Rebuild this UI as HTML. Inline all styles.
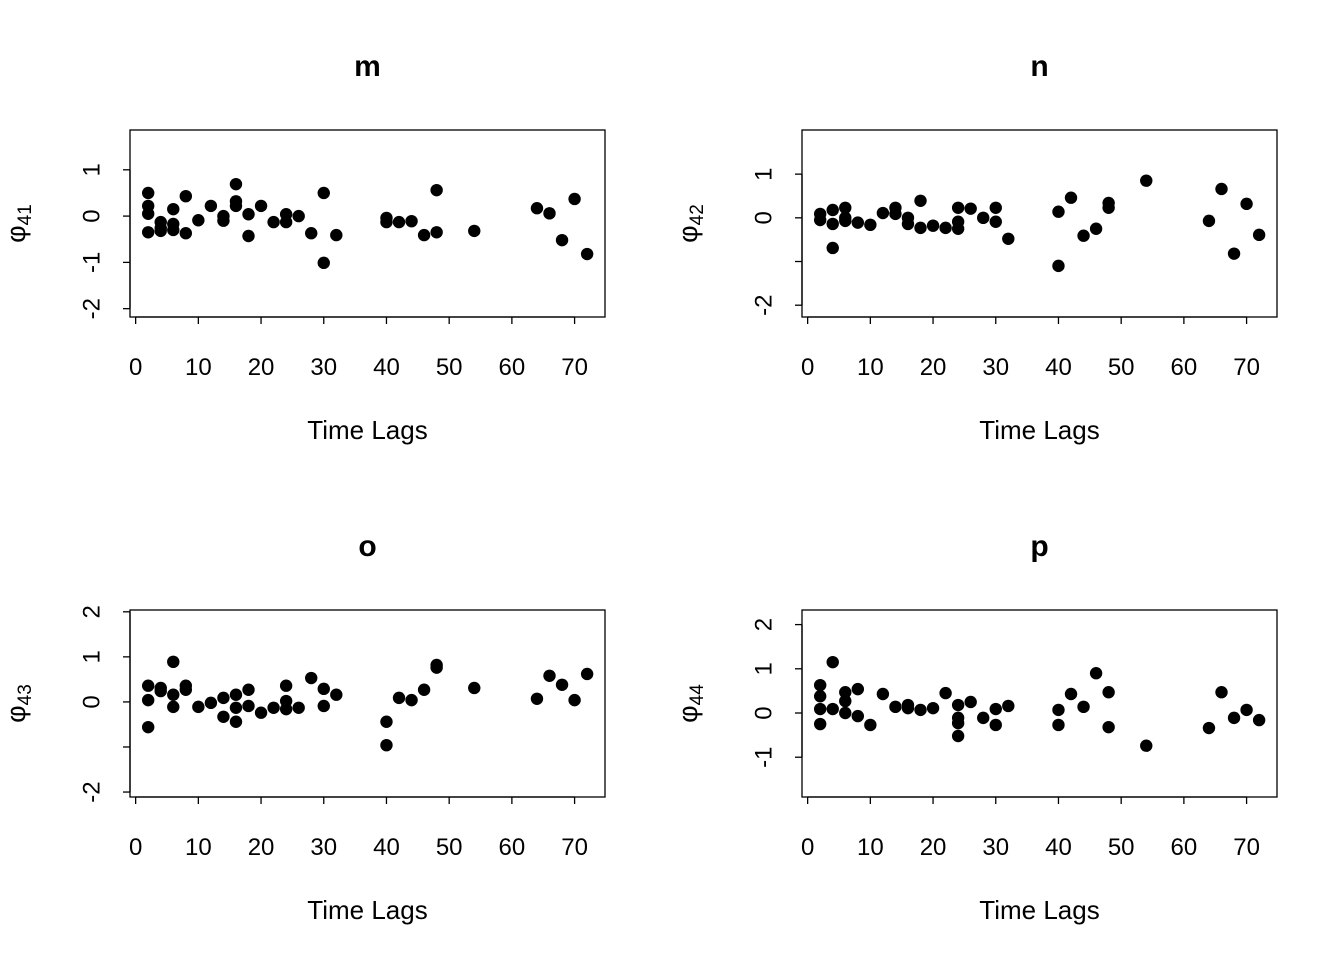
<!DOCTYPE html>
<html><head><meta charset="utf-8"><style>
html,body{margin:0;padding:0;background:#fff;}
svg{display:block;font-family:"Liberation Sans",Arial,sans-serif;}
</style></head><body>
<svg id="chart" width="1344" height="960" viewBox="0 0 1344 960" xmlns="http://www.w3.org/2000/svg"></svg>
<script>
// Data
const lagsM=[2,2,2,2,4,4,4,6,6,6,8,8,10,12,14,14,16,16,16,18,18,20,22,24,24,26,28,30,30,32,40,40,42,44,46,48,48,54,64,66,68,70,72];
const valsM=[0.5,0.22,0.05,-0.35,-0.13,-0.26,-0.32,0.15,-0.17,-0.3,0.43,-0.37,-0.09,0.22,0,-0.1,0.69,0.32,0.22,0.04,-0.43,0.22,-0.13,0.04,-0.13,0,-0.37,0.5,-1.01,-0.41,-0.04,-0.13,-0.13,-0.11,-0.41,0.56,-0.35,-0.32,0.17,0.06,-0.52,0.37,-0.82];
const lagsN=[2,2,4,4,4,6,6,6,8,10,12,14,14,16,16,18,18,20,22,24,24,24,26,28,30,30,32,40,40,42,44,46,48,48,54,64,66,68,70,72];
const valsN=[0.09,-0.05,0.18,-0.14,-0.69,0.23,0,-0.07,-0.11,-0.16,0.11,0.23,0.09,0,-0.14,0.39,-0.23,-0.18,-0.23,0.23,-0.09,-0.25,0.21,0,0.23,-0.09,-0.48,0.14,-1.1,0.46,-0.41,-0.25,0.34,0.23,0.85,-0.07,0.66,-0.82,0.32,-0.39];
const lagsO=[2,2,2,4,4,6,6,6,8,8,10,12,14,14,16,16,16,18,18,20,22,24,24,24,26,28,30,30,32,40,40,42,44,46,48,48,54,64,66,68,70,72];
const valsO=[0.36,0.04,-0.56,0.31,0.24,0.89,0.16,-0.11,0.36,0.27,-0.11,-0.02,0.09,-0.33,0.16,-0.13,-0.44,0.27,-0.09,-0.24,-0.13,0.36,0.02,-0.16,-0.13,0.53,0.29,-0.09,0.16,-0.44,-0.96,0.09,0.04,0.27,0.82,0.76,0.31,0.07,0.58,0.38,0.04,0.62];
const lagsP=[2,2,2,2,4,4,6,6,6,8,8,10,12,14,16,16,18,20,22,24,24,24,24,26,28,30,30,32,40,40,42,44,46,48,48,54,64,66,68,70,72];
const valsP=[0.63,0.38,0.09,-0.25,1.15,0.09,0.47,0.27,0,0.54,-0.07,-0.27,0.43,0.14,0.18,0.11,0.07,0.11,0.45,0.18,-0.11,-0.23,-0.52,0.25,-0.11,0.09,-0.27,0.16,0.07,-0.27,0.43,0.14,0.9,0.47,-0.32,-0.74,-0.34,0.47,-0.11,0.07,-0.16];
const xTicks=[0,10,20,30,40,50,60,70];
const yTicksM=[-2,-1,0,1], yLabelsM=["-2","-1","0","1"];
const yTicksN=[-2,-1,0,1], yLabelsN=["-2","","0","1"];
const yTicksO=[-2,-1,0,1,2], yLabelsO=["-2","","0","1","2"];
const yTicksP=[-1,0,1,2], yLabelsP=["-1","0","1","2"];
const titles=["m","n","o","p"];
const subs=["41","42","43","44"];

const NS="http://www.w3.org/2000/svg";
const svg=document.getElementById('chart');
function el(tag,attrs,parent){const e=document.createElementNS(NS,tag);for(const k in attrs)e.setAttribute(k,attrs[k]);(parent||svg).appendChild(e);return e;}

const panels=[
 {lags:lagsM,vals:valsM,yt:yTicksM,yl:yLabelsM,x0:130,y0:130,ylo:-2.18,yhi:1.86},
 {lags:lagsN,vals:valsN,yt:yTicksN,yl:yLabelsN,x0:802,y0:130,ylo:-2.27,yhi:2.01},
 {lags:lagsO,vals:valsO,yt:yTicksO,yl:yLabelsO,x0:130,y0:610,ylo:-2.11,yhi:2.04},
 {lags:lagsP,vals:valsP,yt:yTicksP,yl:yLabelsP,x0:802,y0:610,ylo:-1.90,yhi:2.33}
];
const W=475,H=187,xlo=-0.9,xhi=74.85;
panels.forEach((p,i)=>{
  const g=el('g',{});
  
  
  const sx=v=>p.x0+(v-xlo)/(xhi-xlo)*W;
  const sy=v=>p.y0+H-(v-p.ylo)/(p.yhi-p.ylo)*H;
  const cx=p.x0+W/2;
  const t=el('text',{x:cx,y:p.y0-54,'text-anchor':'middle','font-size':'30','font-weight':'bold'},g);
  t.textContent=titles[i];
  
  
  const box=el('rect',{x:p.x0,y:p.y0,width:W,height:H,fill:'none',stroke:'#000','stroke-width':'1.3'},g);
  
  
  const xa=el('g',{},g);
  
  
  const yb=p.y0+H;
  el('line',{x1:sx(xTicks[0]),x2:sx(xTicks[xTicks.length-1]),y1:yb,y2:yb,stroke:'#000','stroke-width':'1.3'},xa);
  xTicks.forEach(v=>{
    el('line',{x1:sx(v),x2:sx(v),y1:yb,y2:yb+7,stroke:'#000','stroke-width':'1.3'},xa);
    const tl=el('text',{x:sx(v),y:yb+58,'text-anchor':'middle','font-size':'24'},xa);
    tl.textContent=v;
  });
  const xt=el('text',{x:cx,y:yb+122,'text-anchor':'middle','font-size':'26'},g);
  xt.textContent='Time Lags';
  
  
  const ya=el('g',{},g);
  
  
  el('line',{x1:p.x0,x2:p.x0,y1:sy(p.yt[0]),y2:sy(p.yt[p.yt.length-1]),stroke:'#000','stroke-width':'1.3'},ya);
  p.yt.forEach((v,k)=>{
    el('line',{x1:p.x0-7,x2:p.x0,y1:sy(v),y2:sy(v),stroke:'#000','stroke-width':'1.3'},ya);
    if(p.yl[k]){
      const lx=p.x0-38,ly=sy(v);
      const tl=el('text',{x:lx,y:ly,'text-anchor':'middle','font-size':'24','dominant-baseline':'central',transform:`rotate(-90 ${lx} ${ly})`},ya);
      tl.textContent=p.yl[k];
    }
  });
  const lx=p.x0-105,ly=p.y0+H/2;
  const yt=el('text',{x:lx,y:ly,'text-anchor':'middle','font-size':'27',transform:`rotate(-90 ${lx} ${ly})`},g);
  
  
  const t1=el('tspan',{},yt); t1.textContent='φ';
  const t2=el('tspan',{'font-size':'19',dy:'6'},yt); t2.textContent=subs[i];
  const pts=el('g',{},g);
  
  
  p.lags.forEach((l,k)=>{
    const c=el('circle',{cx:sx(l),cy:sy(p.vals[k]),r:6.2,fill:'#000'},pts);
    
    
  });
});
</script>
</body></html>
